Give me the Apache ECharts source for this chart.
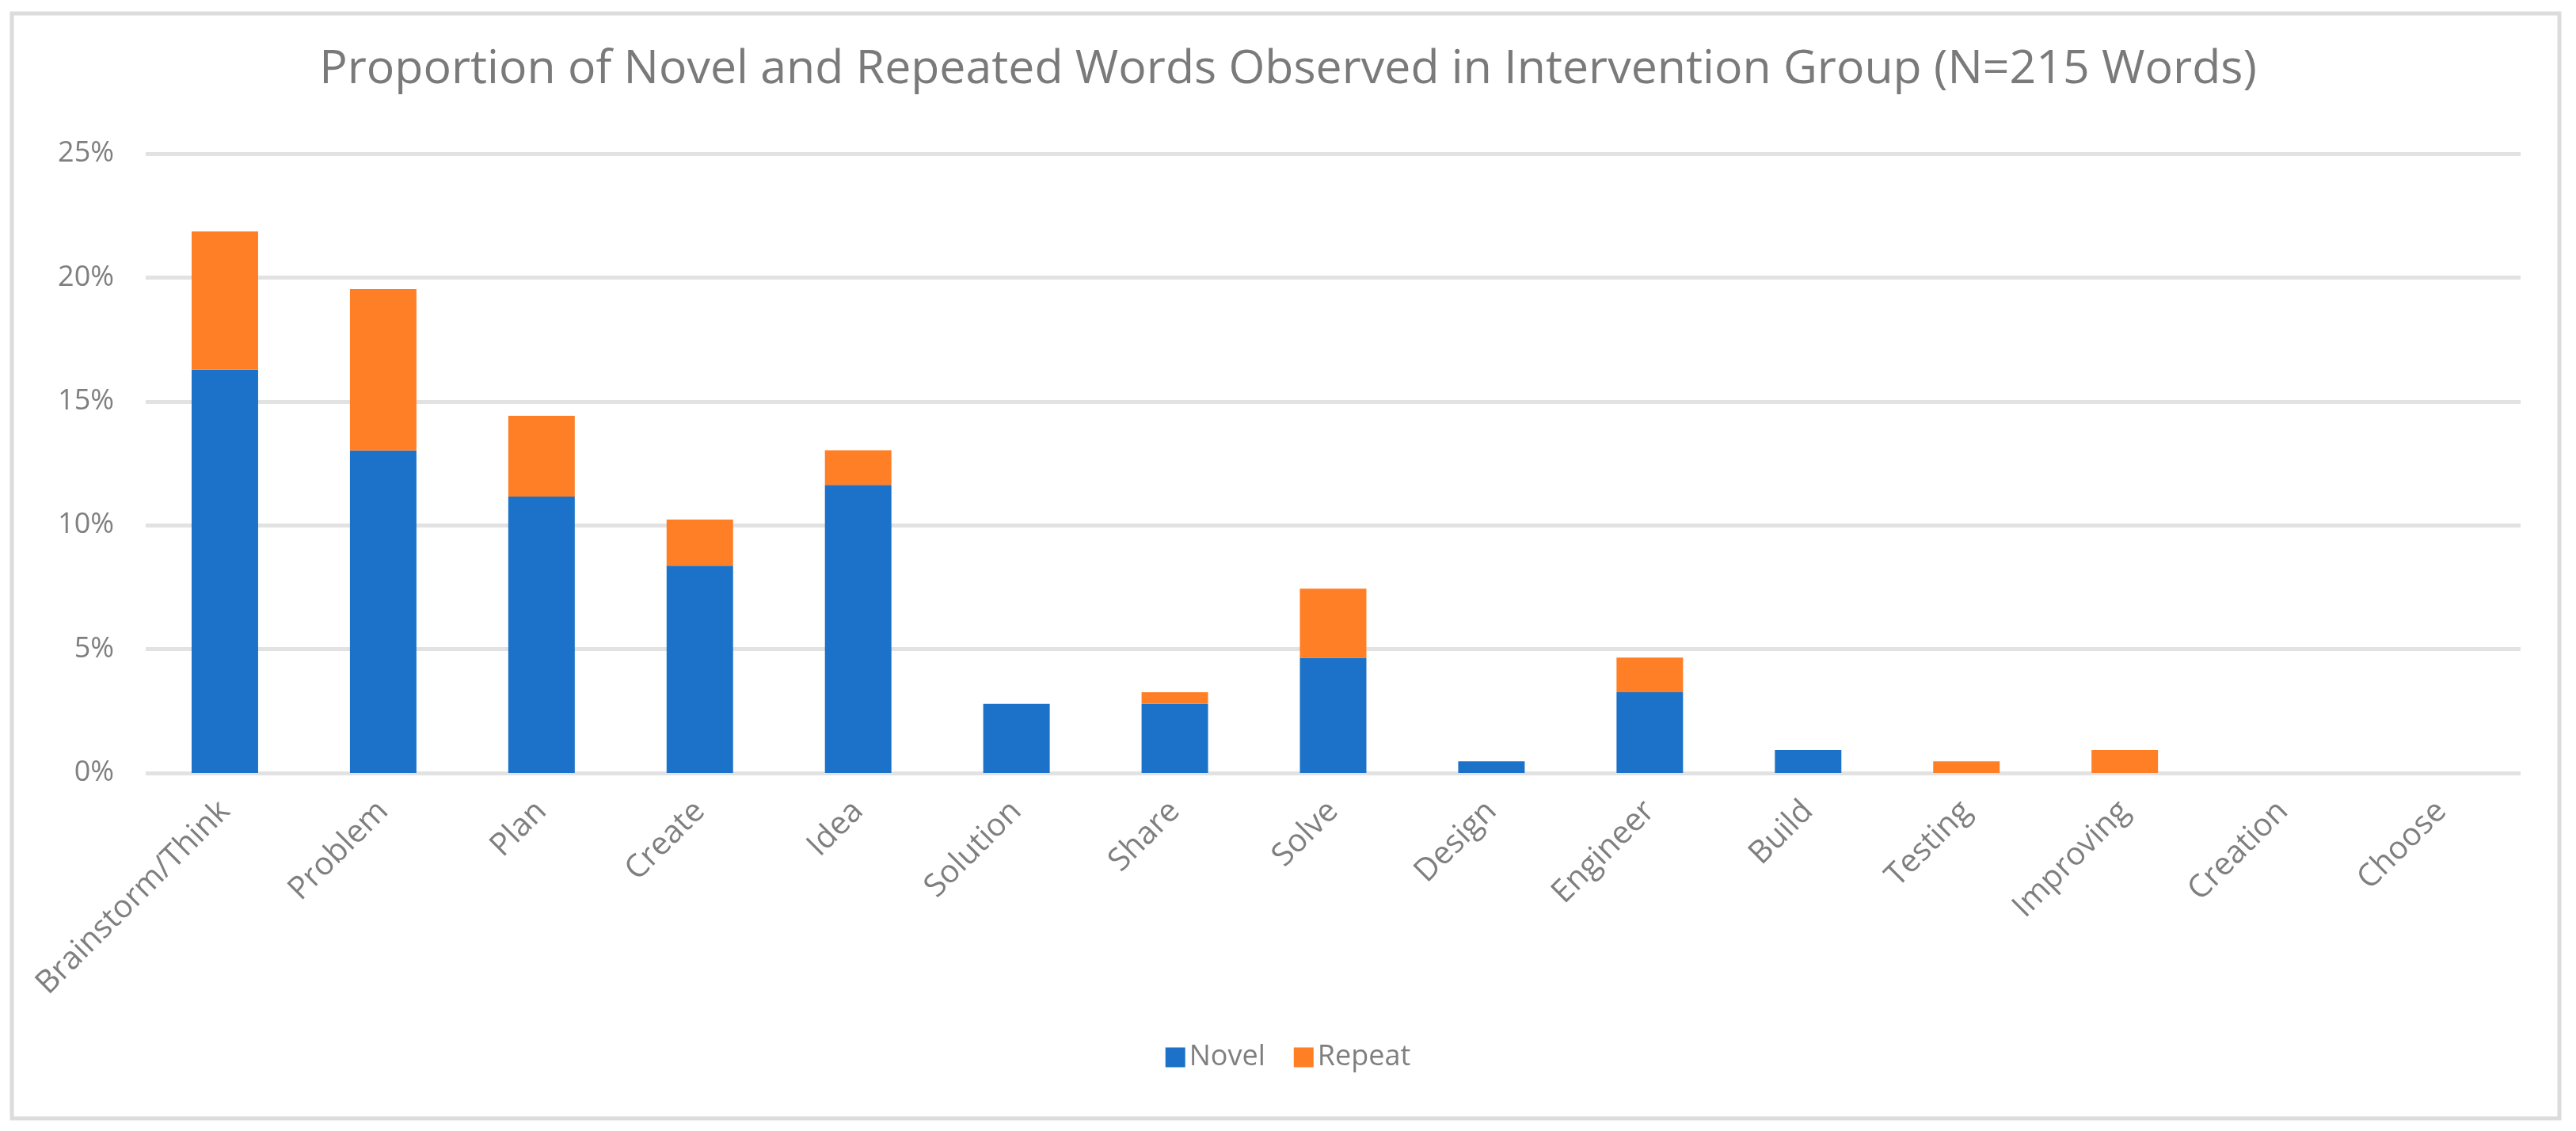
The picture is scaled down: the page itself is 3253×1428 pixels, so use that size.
<!DOCTYPE html>
<html>
<head>
<meta charset="utf-8">
<script src="https://cdn.jsdelivr.net/npm/echarts@6/dist/echarts.min.js"></script>
<style>
html,body{margin:0;padding:0;background:#fff;}
#chart{width:3253px;height:1428px;}
</style>
</head>
<body>
<div id="chart"></div>
<script>
const categories = ["Brainstorm/Think","Problem","Plan","Create","Idea","Solution","Share","Solve","Design","Engineer","Build","Testing","Improving","Creation","Choose"];
const novel  = [16.28, 13.02, 11.16, 8.37, 11.63, 2.79, 2.79, 4.65, 0.47, 3.26, 0.93, 0, 0, 0, 0];
const repeat = [5.58, 6.51, 3.26, 1.86, 1.40, 0, 0.47, 2.79, 0, 1.40, 0, 0.47, 0.93, 0, 0];
const yTicks = [0, 5, 10, 15, 20, 25];

const gray = '#7f7f7f';
const chart = echarts.init(document.getElementById('chart'));
chart.setOption({
  backgroundColor: '#ffffff',
  animation: false,
  title: {
    text: 'Proportion of Novel and Repeated Words Observed in Intervention Group (N=215 Words)',
    left: 'center',
    top: 54,
    textStyle: { fontFamily: 'Open Sans', fontSize: 59, fontWeight: 'normal', color: '#7a7a7a' }
  },
  legend: {
    bottom: 70,
    left: 'center',
    itemWidth: 25,
    itemHeight: 25,
    itemGap: 36,
    icon: 'rect',
    textStyle: { fontFamily: 'Open Sans', fontSize: 36, color: gray },
    data: ['Novel', 'Repeat']
  },
  grid: { left: 184, right: 70, top: 194, bottom: 452, containLabel: false },
  xAxis: {
    type: 'category',
    data: categories,
    axisLine: { show: false },
    axisTick: { show: false },
    axisLabel: { rotate: 45, interval: 0, margin: 42, fontFamily: 'Open Sans', fontSize: 40, color: gray }
  },
  yAxis: {
    type: 'value',
    min: yTicks[0],
    max: yTicks[yTicks.length - 1],
    interval: 5,
    axisLine: { show: false },
    axisTick: { show: false },
    axisLabel: { margin: 40, fontFamily: 'Open Sans', fontSize: 36, color: gray, formatter: v => v + '%' },
    splitLine: { lineStyle: { color: '#e2e2e2', width: 5 } }
  },
  series: [
    { name: 'Novel', type: 'bar', stack: 'total', data: novel, barWidth: '42%', itemStyle: { color: '#1b72c8' } },
    { name: 'Repeat', type: 'bar', stack: 'total', data: repeat, barWidth: '42%', itemStyle: { color: '#ff7f27' } }
  ],
  graphic: [
    { type: 'rect', shape: { x: 15, y: 17, width: 3217, height: 1395 }, style: { fill: 'none', stroke: '#dcdcdc', lineWidth: 5 }, silent: true }
  ]
});
</script>
</body>
</html>
